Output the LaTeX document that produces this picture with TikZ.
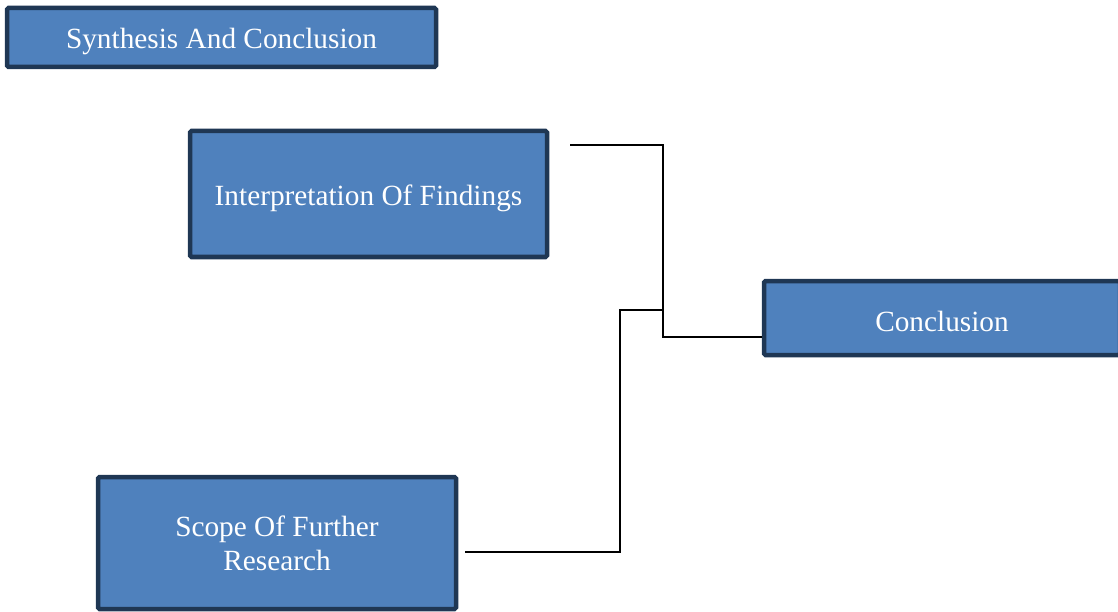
\documentclass[tikz,border=0pt]{standalone}
\usepackage{fontspec}
\setmainfont{Liberation Serif}
\definecolor{boxfill}{HTML}{4F81BD}
\definecolor{boxedge}{HTML}{1F3754}
% lower a label without changing the size of its box
\newcommand{\lowered}[2]{\raisebox{-#1}[\height][\depth]{#2}}
\begin{document}
\begin{tikzpicture}[x=1pt,y=-1pt,
  card/.style={draw=boxedge, fill=boxfill, line width=4.5pt, rounded corners=1.5pt,
    text=white, align=center, inner sep=0pt, font=\fontsize{29.3}{34}\selectfont},
  link/.style={draw=black, line width=1.6pt}]
  \useasboundingbox (0,0) rectangle (1118,612);
  % boxes
  \node[card, minimum width=429pt, minimum height=59pt] (title) at (221.5,37.5) {\lowered{4pt}{Synthesis And Conclusion}};
  \node[card, minimum width=357pt, minimum height=126pt] (interp) at (368.5,194) {\lowered{4pt}{Interpretation Of Findings}};
  \node[card, minimum width=356pt, minimum height=74pt] (concl) at (942,318) {\lowered{3pt}{Conclusion}};
  \node[card, minimum width=358pt, minimum height=132pt] (scope) at (277,543) {Scope Of Further\\Research};
  % connector end points
  \coordinate (a0) at (570,145);
  \coordinate (b0) at (465,552);
  \coordinate (joint) at (663,310);
  % connectors
  \draw[link] (a0) -| (joint) |- (concl.west |- 0,337);
  \draw[link] (b0) -| (620,310) -- (joint);
\end{tikzpicture}
\end{document}
